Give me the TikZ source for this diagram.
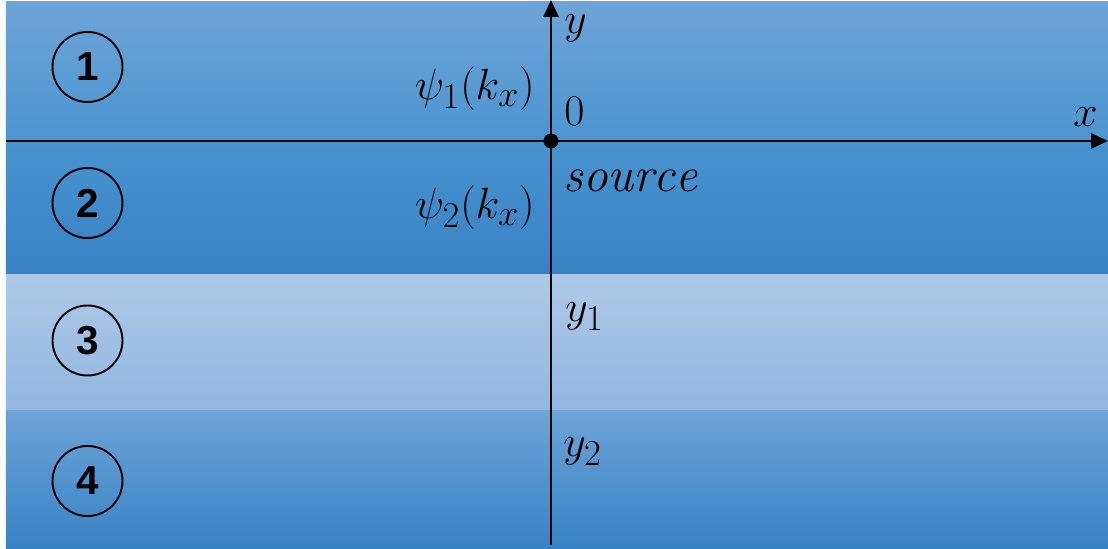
\documentclass[tikz,border=0pt]{standalone}
\usepackage{fontspec}
\setsansfont{Liberation Sans}
\usetikzlibrary{positioning, arrows.meta}
\definecolor{LayA}  {HTML}{6DA4D7}
\definecolor{LayB}  {HTML}{4C95D0}
\definecolor{LayC}  {HTML}{4893CF}
\definecolor{LayD}  {HTML}{3882C4}
\definecolor{LayE}  {HTML}{AEC9E7}
\definecolor{LayF}  {HTML}{92B6DF}
\tikzset{
  every node/.style={font=\fontsize{28}{32}\selectfont},
  % region markers
  region/.style={draw, circle, line width=1.1pt, minimum size=1.4cm,
                 inner sep=0pt, font=\sffamily\bfseries\fontsize{23}{26}\selectfont},
  axis/.style={line width=1.6pt, -{Triangle[length=0.34cm, width=0.3cm]}},
  lbl/.style={inner sep=0pt},
}
\begin{document}
\begin{tikzpicture}
\useasboundingbox (0,0) rectangle (22.16,10.98);
% layers
\shade[top color=LayA, bottom color=LayB] (0.12,8.17) rectangle (22.16,10.94);
\shade[top color=LayC, bottom color=LayD] (0.12,5.48) rectangle (22.16,8.17);
\shade[top color=LayE, bottom color=LayF] (0.12,2.76) rectangle (22.16,5.48);
\shade[top color=LayA, bottom color=LayD] (0.12,0) rectangle (22.16,2.76);
\draw[LayB!80!white, line width=0.6pt] (0.12,2.76) -- (22.16,2.76);
% axes
\coordinate (o) at (11.02,8.16);
\coordinate (xl) at (0.12,8.16);
\coordinate (xr) at (22.16,8.16);
\coordinate (yb) at (11.02,0.08);
\coordinate (yt) at (11.02,10.98);
\draw[axis] (xl) -- (xr);
\draw[axis] (yb) -- (yt);
\fill (o) circle (0.15cm);
% region numbers
\node[region] (r1) at (1.75,9.64) {1};
\node[region] (r2) at (1.75,6.92) {2};
\node[region] (r3) at (1.75,4.17) {3};
\node[region] (r4) at (1.75,1.36) {4};
% labels
\node[lbl, anchor=base west] (ly) at (11.28,10.3) {$y$};
\node[lbl, anchor=base west] (l0) at (11.28,8.46) {$0$};
\node[lbl, anchor=base east] (lx) at (21.96,8.44) {$x$};
\node[lbl, anchor=base west] (src) at (11.26,7.14) {$\mathit{source}$};
\node[lbl, anchor=base east] (psi1) at (10.7,8.98) {$\psi_1(k_x)$};
\node[lbl, anchor=base east] (psi2) at (10.7,6.6) {$\psi_2(k_x)$};
\node[lbl, anchor=base west] (y1) at (11.3,4.54) {$y_1$};
\node[lbl, anchor=base west] (y2) at (11.26,1.84) {$y_2$};
\end{tikzpicture}
\end{document}
